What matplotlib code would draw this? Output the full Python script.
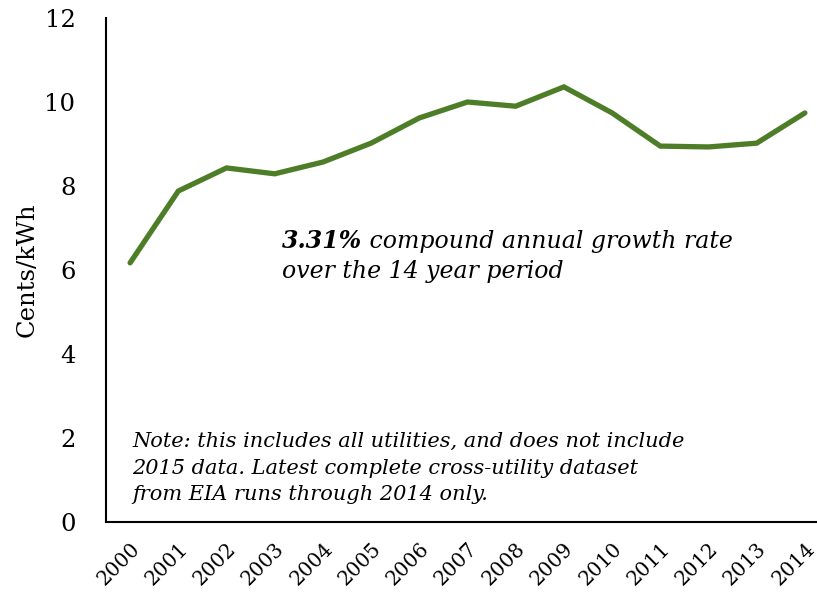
import matplotlib
matplotlib.use("Agg")
from matplotlib import pyplot as plt

# data
years = ["2000", "2001", "2002", "2003", "2004", "2005", "2006", "2007",
         "2008", "2009", "2010", "2011", "2012", "2013", "2014"]
cents = [6.17, 7.88, 8.43, 8.29, 8.57, 9.02, 9.62, 10.0,
         9.90, 10.36, 9.74, 8.95, 8.93, 9.02, 9.74]
yticks = [0, 2, 4, 6, 8, 10, 12]

plt.rcParams['font.family'] = ['DejaVu Serif']

fig = plt.figure(figsize=(8.17, 6.03), dpi=100)
ax = fig.add_axes([106/817, 81/603, 723/817, 504/603])

x = list(range(len(years)))
ax.plot(x, cents, color="#4E7D27", linewidth=3.8, solid_capstyle="round",
        solid_joinstyle="miter")

ax.set_xlim(-0.5, 14.5)
ax.set_ylim(0, 12)
ax.set_yticks(yticks)
ax.set_yticklabels([str(v) for v in yticks], fontsize=17.5)
ax.set_xticks(x)
ax.set_xticklabels(years, rotation=45, ha="right", rotation_mode="anchor",
                   fontsize=14.5)
ax.tick_params(axis="y", length=0, pad=22)
ax.tick_params(axis="x", length=0, pad=12)
ax.set_ylabel("Cents/kWh", fontsize=17.5, labelpad=4)

for s in ["top", "right"]:
    ax.spines[s].set_visible(False)
ax.spines["left"].set_linewidth(1.5)
ax.spines["bottom"].set_linewidth(1.5)

# annotations
t = ax.text(3.15, 6.53, "3.31%", fontsize=17, fontweight="bold",
            style="italic", va="baseline")
ax.annotate(" compound annual growth rate", xy=(1, 0), xycoords=t,
            fontsize=17, style="italic", va="bottom")
ax.text(3.15, 5.82, "over the 14 year period", fontsize=17, style="italic",
        va="baseline")

ax.text(0.05, 0.42, "Note: this includes all utilities, and does not include\n"
        "2015 data. Latest complete cross-utility dataset\n"
        "from EIA runs through 2014 only.",
        fontsize=15, style="italic", linespacing=1.5, va="bottom")

fig.savefig("out.png", dpi=100)
